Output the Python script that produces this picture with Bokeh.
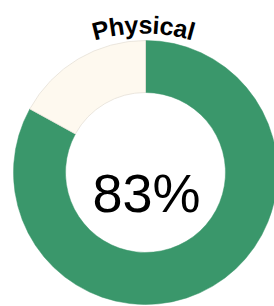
import numpy as np
from bokeh.plotting import figure
from bokeh.models import Range1d, ColumnDataSource
from bokeh.core.properties import value
from bokeh.embed import file_html
from bokeh.resources import INLINE

# ---- data ----
categories = ["Physical", "Remaining"]
values = [83, 17]
colors = ["#3A976B", "#FEF9EF"]
title = "Physical"
center_label = "83%"

# ---- layout ----
W, H = 274, 306
p = figure(width=W, height=H, x_range=Range1d(0, W), y_range=Range1d(0, H),
           min_border=0, toolbar_location=None, output_backend="svg")
p.axis.visible = False
p.grid.visible = False
p.outline_line_color = None
p.background_fill_color = "white"
p.border_fill_color = "white"

def sy(y):  # screen y -> data y
    return H - y

cx, cy = 145, sy(172)
r_out, r_in = 132, 80

total = sum(values)
fracs = np.array(values, dtype=float) / total
ends = np.pi / 2 - 2 * np.pi * np.concatenate([[0], np.cumsum(fracs)[:-1]])
starts = ends - 2 * np.pi * fracs
src = ColumnDataSource(dict(cat=categories, start=starts, end=ends, color=colors,
                            lc=["#3A976B", "#E6E1D8"], lw=[0.5, 0.8]))
p.annular_wedge(x=cx, y=cy, inner_radius=r_in, outer_radius=r_out,
                start_angle="start", end_angle="end", fill_color="color",
                line_color="lc", line_width="lw", source=src)

# center label
p.text(x=[cx + 1], y=[sy(192)], text=[center_label], text_font=value("Liberation Sans"),
       text_font_size="54px", text_align="center", text_baseline="alphabetic",
       text_color="#000000")

# curved title
fs = 25
ls = 0.3
em = {"P": 0.667, "h": 0.611, "y": 0.556, "s": 0.556, "i": 0.278, "c": 0.556, "a": 0.556, "l": 0.278}
widths = np.array([em.get(ch, 0.556) * fs for ch in title])
L = widths.sum() + ls * (len(title) - 1)
pos = -L / 2 + np.concatenate([[0], np.cumsum(widths + ls)[:-1]]) + widths / 2
R = 180
acx, acy = 143, 204  # arc centre (screen)
theta = pos / R
xs = acx + R * np.sin(theta)
ys = [sy(acy - R * np.cos(t)) for t in theta]
p.text(x=list(xs), y=ys, text=list(title), angle=list(-theta),
       text_font=value("Liberation Sans"), text_font_size=f"{fs}px", text_font_style="bold",
       text_align="center", text_baseline="alphabetic", text_color="#000000")

open("out.html", "w").write(file_html(p, INLINE))
